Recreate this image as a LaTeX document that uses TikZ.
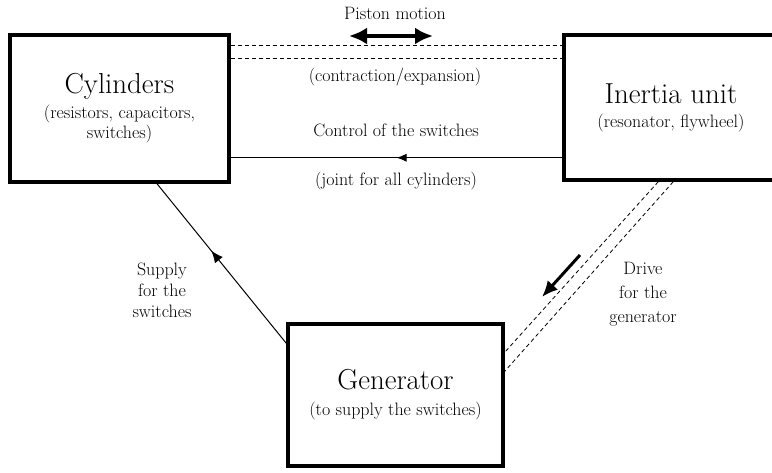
\documentclass[tikz,border=0pt]{standalone}
\usetikzlibrary{arrows.meta,decorations.markings}

\newcommand{\unittitle}{\fontsize{29}{31}\selectfont}

\tikzset{
  unit/.style={draw, line width=3.5bp, align=center, inner sep=0pt,
    font=\fontsize{18}{20}\selectfont},
  lbl/.style={align=center, font=\fontsize{18}{21}\selectfont},
  shaft/.style={dash pattern=on 4bp off 3bp, line width=0.8bp},
}

\begin{document}
\begin{tikzpicture}[x=1bp, y=-1bp]
\useasboundingbox (0,0) rectangle (772,473);

% the three units
\node[unit, minimum width=219bp, minimum height=147bp] (cyl) at (119.5,108.5)
    {{\unittitle Cylinders}\\[5bp] (resistors, capacitors,\\ switches)};
\node[unit, minimum width=214bp, minimum height=145bp] (iner) at (671,107.5)
    {{\unittitle Inertia unit}\\[4bp] (resonator, flywheel)};
\node[unit, minimum width=215bp, minimum height=142bp] (gen) at (395.5,395)
    {{\unittitle Generator}\\[6bp] (to supply the switches)};

% piston shaft between cylinders and inertia unit
\draw[shaft] ([yshift=-12bp]cyl.north east) -- ([yshift=-12bp]cyl.north east -| iner.west);
\draw[shaft] ([yshift=-25bp]cyl.north east) -- ([yshift=-25bp]cyl.north east -| iner.west);
\coordinate (pl) at (349,36);
\coordinate (pr) at (433,36);
\draw[line width=4.5bp, {Latex[length=18bp,width=17bp]}-{Latex[length=18bp,width=17bp]}] (pl) -- (pr);
\node[lbl] (pm) at (395,13) {Piston motion};
\node[lbl] (ce) at (395,77) {(contraction/expansion)};

% control of the switches
\draw[line width=1bp, postaction={decorate},
    decoration={markings, mark=at position .5 with {\arrow{Latex[length=10bp,width=8bp]}}}]
    ([yshift=24bp]iner.south west) -- ([yshift=24bp]iner.south west -| cyl.east);
\node[lbl] (cs) at (396,130) {Control of the switches};
\node[lbl] (ja) at (396,181) {(joint for all cylinders)};

% supply for the switches
\draw[line width=1bp, postaction={decorate},
    decoration={markings, mark=at position .58 with {\arrow{Latex[length=12bp,width=10bp]}}}]
    ([yshift=-21bp]gen.north west) -- ([xshift=37.5bp]cyl.south);
\node[lbl] (sup) at (162,290) {Supply\\for the\\switches};

% drive for the generator
\draw[shaft] ([xshift=96bp]iner.south west) -- ([yshift=-30bp]gen.north east);
\draw[shaft] ([xshift=111bp]iner.south west) -- ([yshift=-49bp]gen.north east);
\coordinate (da) at (580,255);
\coordinate (db) at (542,297);
\draw[line width=3bp, -{Latex[length=16bp,width=14bp]}] (da) -- (db);
\node[lbl, font=\fontsize{18}{24}\selectfont] (drv) at (643,294) {Drive\\for the\\generator};

\end{tikzpicture}
\end{document}
